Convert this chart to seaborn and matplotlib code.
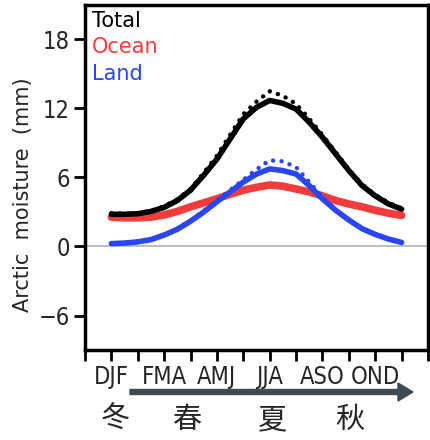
import numpy as np
import pandas as pd
import matplotlib
matplotlib.use("Agg")
import matplotlib.pyplot as plt
from matplotlib.patches import FancyArrow
import seaborn as sns

# ---- data ----
month_pos = [1, 1.5, 2, 2.5, 3, 3.5, 4, 4.5, 5, 5.5, 6, 6.5,
             7, 7.5, 8, 8.5, 9, 9.5, 10, 10.5, 11, 11.5, 12]
total = [2.8, 2.8, 2.85, 3.05, 3.4, 4.0, 4.9, 6.2, 7.6, 9.35, 11.1, 12.1,
         12.7, 12.45, 11.95, 10.8, 9.5, 8.05, 6.6, 5.3, 4.4, 3.7, 3.25]
ocean = [2.55, 2.5, 2.5, 2.55, 2.75, 3.05, 3.45, 3.8, 4.15, 4.55, 4.9, 5.15,
         5.35, 5.25, 5.0, 4.75, 4.4, 4.0, 3.7, 3.45, 3.15, 2.9, 2.7]
land = [0.25, 0.3, 0.4, 0.6, 1.0, 1.5, 2.2, 3.0, 3.9, 4.75, 5.6, 6.3,
        6.75, 6.6, 6.3, 5.3, 4.15, 3.15, 2.3, 1.55, 1.05, 0.65, 0.35]
total_dots = [2.9, 2.85, 2.9, 3.1, 3.5, 4.1, 5.0, 6.4, 7.9, 9.7, 11.5, 12.6,
              13.5, 13.1, 12.4, 11.1, 9.7, 8.2, 6.7, 5.4, 4.5, 3.8, 3.3]
land_dots = [0.25, 0.3, 0.45, 0.65, 1.0, 1.55, 2.25, 3.1, 4.0, 4.9, 5.8, 6.7,
             7.5, 7.4, 6.9, 5.6, 4.3, 3.2, 2.3, 1.6, 1.05, 0.65, 0.35]

series_names = ["Total", "Ocean", "Land"]
series_colors = ["#000000", "#f23c3c", "#2a45f2"]
season_ticks = [1, 3, 5, 7, 9, 11]
season_labels = ["DJF", "FMA", "AMJ", "JJA", "ASO", "OND"]
y_ticks = [-6, 0, 6, 12, 18]
cn_seasons = ["冬", "春", "夏", "秋"]

df = pd.DataFrame({
    "x": month_pos * 3,
    "y": total + ocean + land,
    "series": sum([[n] * len(month_pos) for n in series_names], []),
})
df_dots = pd.DataFrame({
    "x": month_pos * 2,
    "y": total_dots + land_dots,
    "series": sum([[n] * len(month_pos) for n in ["Total", "Land"]], []),
})

sns.set_style("white")
plt.rcParams["font.family"] = ["DejaVu Sans"]

fig = plt.figure(figsize=(4.31, 4.40), dpi=100)
ax = fig.add_axes([85 / 431, 90 / 440, 343 / 431, 345 / 440])

ax.axhline(0, color="#b0b0b0", lw=1.2, zorder=1)

palette = dict(zip(series_names, series_colors))
sns.lineplot(data=df[df.series == "Ocean"], x="x", y="y", hue="series",
             palette=palette, lw=5.5, ax=ax, legend=False, zorder=3)
sns.lineplot(data=df[df.series != "Ocean"], x="x", y="y", hue="series",
             palette=palette, lw=4.0, ax=ax, legend=False, zorder=4)
sns.lineplot(data=df_dots, x="x", y="y", hue="series", palette=palette,
             lw=3.2, ax=ax, legend=False, zorder=5,
             dashes=False, linestyle=(0, (0.01, 1.9)), dash_capstyle="round")

ax.set_xlim(0, 13)
ax.set_ylim(-9, 21)
ax.set_xticks(range(0, 14))
ax.set_xticklabels([season_labels[season_ticks.index(i)] if i in season_ticks else ""
                    for i in range(0, 14)], fontsize=17, fontstretch="condensed")
ax.set_yticks(y_ticks)
ax.set_yticklabels([str(v).replace("-", "\u2212") for v in y_ticks], fontsize=17,
                   fontstretch="condensed")
ax.tick_params(axis="both", direction="out", length=8, width=2, color="black",
               pad=3, bottom=True, left=True)
ax.set_xlabel("")
ax.set_ylabel("Arctic  moisture  (mm)", fontsize=15)
ax.yaxis.set_label_coords(-0.152, 0.45)
for s in ax.spines.values():
    s.set_visible(True)
    s.set_linewidth(2.5)
    s.set_color("black")

for i, (name, col) in enumerate(zip(series_names, series_colors)):
    ax.text(0.02, 0.955 - i * 0.077, name, color=col, fontsize=15,
            transform=ax.transAxes, va="center", ha="left")

# season arrow
arrow = FancyArrow(1.30, 0.48, 2.83, 0.0, width=0.05, head_width=0.18,
                   head_length=0.15, length_includes_head=True,
                   color="#3f4a52", transform=fig.dpi_scale_trans)
fig.add_artist(arrow)

cn_x = [115, 188, 272, 350]
for ch, xp in zip(cn_seasons, cn_x):
    fig.text(xp / 431, 20 / 440, ch, fontsize=21, ha="center", va="center",
             family=["Noto Sans CJK SC", "DejaVu Sans"], fontweight="light")

fig.savefig("out.png", dpi=100)
